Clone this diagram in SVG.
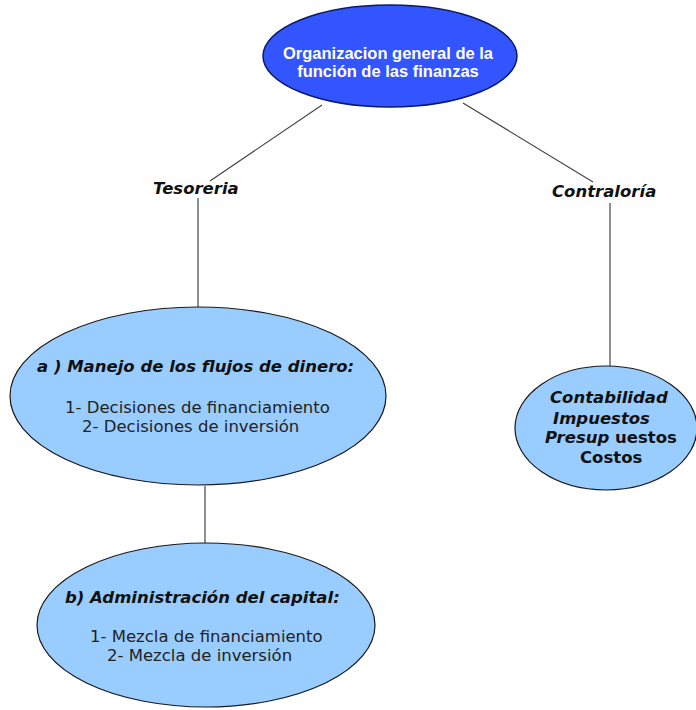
<svg xmlns="http://www.w3.org/2000/svg" width="696" height="710" viewBox="0 0 696 710">
<style>
.bg{fill:#ffffff}
.top{fill:#3355ff;stroke:#0a1a66;stroke-width:1.5}
.node{fill:#99ccff;stroke:#1a1a1a;stroke-width:1.2}
.ln{stroke:#444444;stroke-width:1.2;fill:none}
.title{font-family:"Liberation Sans",Arial,sans-serif;font-weight:bold;font-size:16.5px;fill:#ffffff}
.lbl{font-family:"DejaVu Sans",Verdana,sans-serif;font-weight:bold;font-style:italic;font-size:16.5px;fill:#111111}
.hd{font-family:"DejaVu Sans",Verdana,sans-serif;font-weight:bold;font-style:italic;font-size:16.5px;fill:#111111}
.tx{font-family:"DejaVu Sans",Verdana,sans-serif;font-size:16.5px;fill:#222222}
.bd{font-family:"DejaVu Sans",Verdana,sans-serif;font-weight:bold;font-size:16.5px;fill:#111111}
</style>
<rect class="bg" x="0" y="0" width="696" height="710"/>
<g id="connectors">
<line class="ln" x1="322" y1="105" x2="210" y2="181"/>
<line class="ln" x1="463" y1="103" x2="593" y2="182"/>
<line class="ln" x1="198" y1="198" x2="198" y2="307"/>
<line class="ln" x1="610" y1="203" x2="610" y2="366"/>
<line class="ln" x1="205" y1="486" x2="205" y2="544"/>
</g>
<g id="root">
<ellipse class="top" cx="390" cy="56" rx="127" ry="51"/>
<text class="title" x="388" y="59" text-anchor="middle">Organizacion general de la</text>
<text class="title" x="388" y="77" text-anchor="middle">función de las finanzas</text>
</g>
<g id="tesoreria">
<text class="lbl" x="153" y="194">Tesoreria</text>
</g>
<g id="contraloria">
<text class="lbl" x="552" y="197">Contraloría</text>
</g>
<g id="flujos">
<ellipse class="node" cx="198" cy="396" rx="188" ry="89"/>
<text class="hd" x="37" y="372">a ) Manejo de los flujos de dinero:</text>
<text class="tx" x="65" y="413">1- Decisiones de financiamiento</text>
<text class="tx" x="82" y="432">2- Decisiones de inversión</text>
</g>
<g id="capital">
<ellipse class="node" cx="206" cy="625" rx="169" ry="82"/>
<text class="hd" x="65" y="603">b) Administración del capital:</text>
<text class="tx" x="90" y="642">1- Mezcla de financiamiento</text>
<text class="tx" x="107" y="661">2- Mezcla de inversión</text>
</g>
<g id="contab">
<ellipse class="node" cx="606" cy="428" rx="91" ry="62"/>
<text class="hd" x="550" y="403">Contabilidad</text>
<text class="hd" x="553" y="424">Impuestos</text>
<text x="545" y="443"><tspan class="hd">Presup</tspan><tspan class="bd"> uestos</tspan></text>
<text class="bd" x="580" y="463">Costos</text>
</g>
</svg>
